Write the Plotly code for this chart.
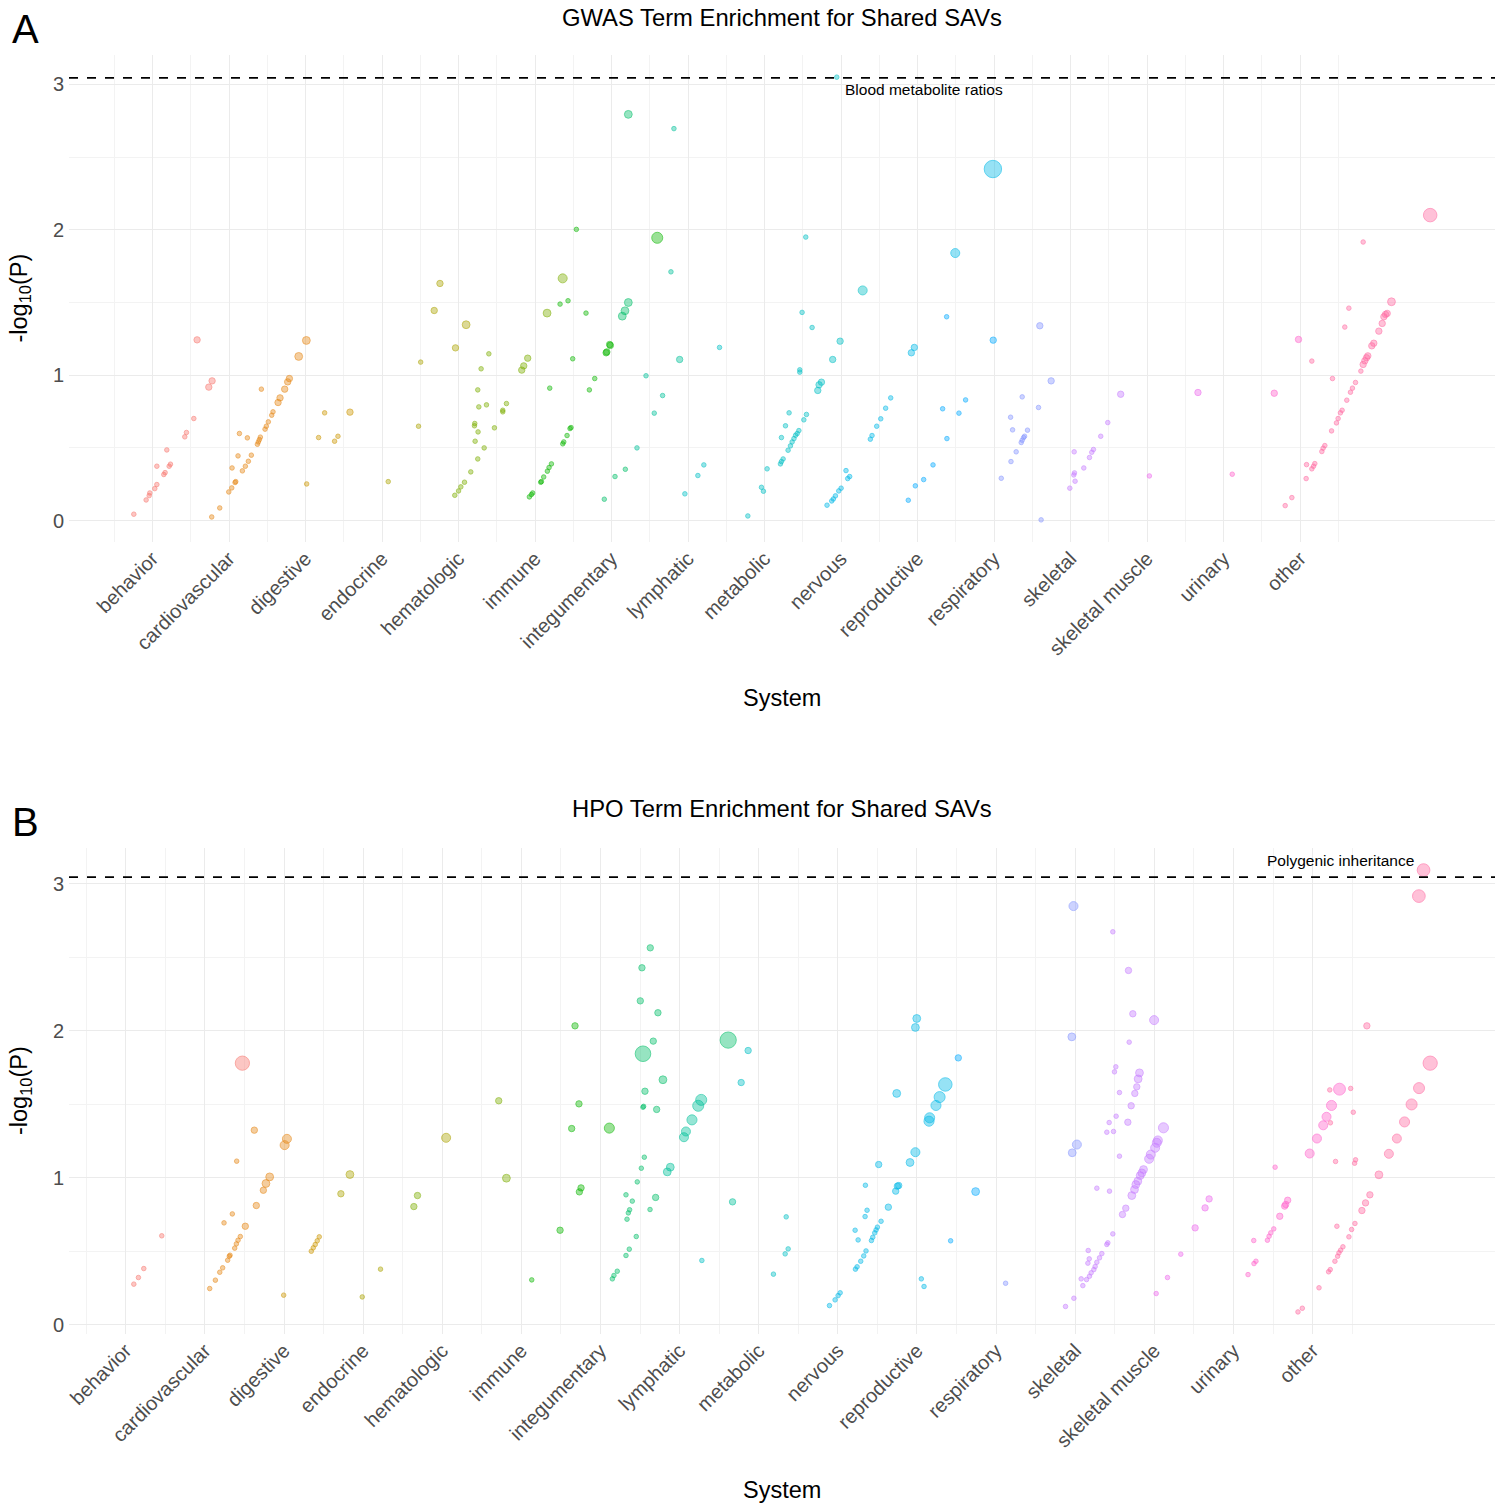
import math
import plotly.graph_objects as go
from plotly.subplots import make_subplots

# Systems on the x axis (ticks 1..16; plain grid lines at 0 and 17)
systems = ["behavior", "cardiovascular", "digestive", "endocrine", "hematologic",
           "immune", "integumentary", "lymphatic", "metabolic", "nervous",
           "reproductive", "respiratory", "skeletal", "skeletal muscle",
           "urinary", "other"]

# ggplot default hue palette, 16 levels (one colour per point group)
hue16 = ["#F8766D", "#E68613", "#CD9600", "#ABA300", "#7CAE00", "#0CB702",
         "#00BE67", "#00C19A", "#00BFC4", "#00B8E7", "#00A9FF", "#8494FF",
         "#C77CFF", "#ED68ED", "#FF61CC", "#FF68A1"]

sig_threshold = 3.045

# ---------------- GWAS terms (panel A) ----------------
gwas_pos = [
    [0.756, 0.917, 0.957, 0.965, 1.030, 1.057, 1.057, 1.148, 1.165, 1.187, 1.218, 1.235, 1.422, 1.444, 1.540, 1.583, 1.736, 1.779],
    [1.774, 1.879, 1.997, 2.036, 2.040, 2.079, 2.088, 2.118, 2.136, 2.175, 2.214, 2.240, 2.253, 2.292, 2.371, 2.384, 2.397, 2.410, 2.423, 2.471, 2.488, 2.514, 2.558, 2.575, 2.641, 2.667, 2.728, 2.767, 2.789, 2.911, 3.011],
    [3.015, 3.171, 3.250, 3.380, 3.424, 3.581],
    [4.081, 4.477, 4.505, 4.682, 4.757, 4.960, 5.099],
    [4.951, 5.000, 5.030, 5.078, 5.160, 5.217, 5.208, 5.212, 5.251, 5.251, 5.255, 5.265, 5.295, 5.335, 5.365, 5.396, 5.469, 5.578, 5.578, 5.626, 5.826, 5.852, 5.904, 6.157, 6.361],
    [5.926, 5.952, 5.969, 6.074, 6.083, 6.113, 6.161, 6.183, 6.214, 6.192, 6.327, 6.431, 6.362, 6.375, 6.418, 6.457, 6.470, 6.492, 6.540, 6.666, 6.710, 6.780, 6.929, 6.938, 6.975, 6.984, 7.597],
    [6.905, 7.045, 7.140, 7.175, 7.180, 7.219, 7.219],
    [7.332, 7.450, 7.558, 7.667, 7.776, 7.815, 7.890],
    [7.958, 8.128, 8.206, 8.411, 8.781, 8.959, 8.985, 9.033, 9.207, 9.220, 9.242, 9.220, 9.273, 9.307, 9.320, 9.338, 9.360, 9.384, 9.405, 9.426, 9.448, 9.460, 9.460, 9.490, 9.513, 9.538, 9.547, 9.621, 9.695, 9.712, 9.743, 9.890, 9.943, 9.987, 10.282],
    [9.816, 9.877, 9.899, 9.926, 9.969, 10.000, 10.064, 10.086, 10.112, 10.382, 10.404, 10.465, 10.518, 10.582, 10.648, 10.918, 10.957, 11.492, 11.984],
    [10.878, 10.970, 11.079, 11.201, 11.327, 11.379, 11.383, 11.540, 11.627, 11.988],
    [12.093, 12.215, 12.241, 12.220, 12.288, 12.354, 12.367, 12.385, 12.398, 12.367, 12.436, 12.580, 12.597, 12.614, 12.745],
    [12.989, 13.041, 13.046, 13.050, 13.058, 13.172, 13.246, 13.276, 13.298, 13.393, 13.485, 13.654],
    [14.029, 14.664],
    [15.112, 15.661, 15.978],
    [15.804, 15.891, 16.078, 16.083, 16.152, 16.152, 16.174, 16.191, 16.283, 16.300, 16.322, 16.410, 16.422, 16.474, 16.496, 16.526, 16.548, 16.583, 16.609, 16.636, 16.657, 16.683, 16.723, 16.793, 16.823, 16.823, 16.845, 16.867, 16.884, 16.936, 16.962, 17.028, 17.072, 17.094, 17.115, 17.137, 17.193, 17.699],
]
gwas_logp = [
    [0.044, 0.142, 0.172, 0.190, 0.220, 0.248, 0.374, 0.317, 0.330, 0.486, 0.374, 0.388, 0.576, 0.606, 0.702, 1.243, 0.918, 0.961],
    [0.025, 0.087, 0.197, 0.225, 0.362, 0.262, 0.268, 0.445, 0.599, 0.342, 0.374, 0.569, 0.408, 0.450, 0.525, 0.541, 0.557, 0.574, 0.904, 0.629, 0.649, 0.679, 0.725, 0.748, 0.812, 0.844, 0.904, 0.954, 0.977, 1.129, 1.239],
    [0.252, 0.571, 0.741, 0.546, 0.580, 0.746],
    [0.268, 0.649, 1.090, 1.445, 1.631, 1.188, 1.347],
    [0.174, 0.204, 0.232, 0.264, 0.335, 0.546, 0.652, 0.668, 0.424, 0.899, 0.610, 0.782, 1.044, 0.500, 0.796, 1.147, 0.638, 0.748, 0.759, 0.805, 1.035, 1.064, 1.117, 1.427, 1.666],
    [0.163, 0.179, 0.190, 0.264, 0.268, 0.300, 0.340, 0.365, 0.390, 0.911, 1.489, 1.512, 0.528, 0.541, 0.585, 0.633, 0.640, 1.113, 2.003, 1.427, 0.899, 0.977, 1.154, 1.160, 1.211, 1.205, 1.945],
    [0.147, 0.303, 1.406, 1.443, 0.353, 1.500, 2.794],
    [0.500, 0.996, 0.739, 0.860, 1.711, 2.696, 1.108],
    [0.184, 0.310, 0.383, 1.191, 0.032, 0.229, 0.202, 0.356, 0.390, 0.406, 0.424, 0.571, 0.652, 0.484, 0.741, 0.514, 0.541, 0.564, 0.587, 0.599, 0.619, 1.021, 1.037, 1.432, 0.693, 1.950, 0.730, 1.328, 0.895, 0.934, 0.952, 1.108, 3.050, 1.234, 1.583],
    [0.106, 0.135, 0.149, 0.170, 0.204, 0.223, 0.344, 0.289, 0.303, 0.560, 0.585, 0.649, 0.700, 0.773, 0.844, 1.154, 1.191, 1.840, 2.418],
    [0.140, 0.239, 0.282, 0.383, 0.769, 1.402, 0.564, 0.739, 0.830, 1.241],
    [0.291, 0.711, 0.624, 0.406, 0.473, 0.537, 0.553, 0.571, 0.580, 0.851, 0.622, 0.778, 1.340, 0.005, 0.961],
    [0.223, 0.314, 0.473, 0.328, 0.271, 0.362, 0.434, 0.470, 0.489, 0.580, 0.674, 0.869],
    [0.307, 0.881],
    [0.319, 0.876, 1.246],
    [0.103, 0.158, 0.289, 0.385, 1.097, 0.356, 0.374, 0.392, 0.475, 0.498, 0.516, 0.617, 0.977, 0.672, 0.702, 0.741, 0.759, 1.331, 0.828, 1.461, 0.883, 0.911, 0.950, 1.028, 1.916, 1.074, 1.099, 1.120, 1.133, 1.202, 1.220, 1.303, 1.356, 1.402, 1.418, 1.425, 1.505, 2.101],
]
gwas_n = [
    [1] * 15 + [2, 2, 2],
    [1] * 24 + [2, 2, 2, 2, 2, 3, 3],
    [1, 1, 1, 1, 1, 2],
    [1, 1, 1, 2, 2, 2, 3],
    [1] * 20 + [2, 2, 2, 3, 4],
    [1] * 22 + [2, 2, 2, 2, 6],
    [1, 1, 3, 3, 1, 3, 3],
    [1, 1, 1, 1, 1, 1, 2],
    [1] * 28 + [2, 2, 2, 2, 1, 2, 4],
    [1] * 15 + [2, 2, 4, 15],
    [1] * 9 + [2],
    [1] * 12 + [2, 1, 2],
    [1] * 11 + [2],
    [1, 2],
    [1, 2, 2],
    [1] * 25 + [2] * 11 + [3, 9],
]

# ---------------- HPO terms (panel B) ----------------
hpo_pos = [
    [1.102, 1.160, 1.228, 1.455, 2.474],
    [2.061, 2.133, 2.188, 2.225, 2.242, 2.288, 2.309, 2.318, 2.347, 2.377, 2.398, 2.419, 2.448, 2.402, 2.511, 2.625, 2.650, 2.739, 2.772, 2.819, 3.008, 3.037],
    [2.996, 3.345, 3.370, 3.395, 3.420, 3.446],
    [3.719, 3.833, 3.989, 4.220, 5.049],
    [4.641, 4.687, 5.714, 5.811],
    [6.131, 6.489, 6.636, 6.678, 6.728, 6.733, 6.754, 7.112],
    [7.150, 7.170, 7.212, 7.322, 7.364, 7.452, 7.322, 7.402, 7.368, 7.352, 7.335, 7.465, 7.516, 7.554, 7.503, 7.524, 7.629, 7.537, 7.562, 7.537, 7.545, 7.667, 7.726, 7.626, 7.697, 7.710, 7.789, 8.614],
    [7.844, 7.882, 8.055, 8.080, 8.156, 8.235, 8.273, 8.669],
    [8.281, 8.778, 8.866, 9.186, 9.334, 9.347, 9.372],
    [9.894, 9.965, 10.003, 10.029, 10.218, 10.222, 10.243, 10.256, 10.289, 10.327, 10.344, 10.348, 10.356, 10.369, 10.424, 10.441, 10.466, 10.483, 10.500, 10.516, 10.546, 10.638, 10.731, 10.744, 10.752, 10.769, 10.912, 10.980, 10.980, 10.997, 11.055, 11.089, 11.152, 11.160, 11.240, 11.286, 11.358],
    [11.425, 11.522, 11.741],
    [12.120, 12.957, 12.962, 12.978, 13.021],
    [12.877, 12.983, 13.075, 13.096, 13.143, 13.160, 13.164, 13.177, 13.180, 13.201, 13.235, 13.252, 13.273, 13.273, 13.307, 13.336, 13.399, 13.399, 13.412, 13.429, 13.433, 13.475, 13.475, 13.484, 13.496, 13.513, 13.517, 13.559, 13.559, 13.597, 13.639, 13.665, 13.673, 13.682, 13.707, 13.715, 13.728, 13.749, 13.753, 13.766, 13.778, 13.791, 13.795, 13.812, 13.821, 13.842, 13.863, 13.934, 13.955, 13.997, 14.010, 14.031, 14.044, 14.115],
    [14.023, 14.166, 14.334, 14.515, 14.641, 14.692],
    [15.184, 15.256, 15.259, 15.284, 15.429, 15.450, 15.471, 15.509, 15.526, 15.585, 15.647, 15.660, 15.685, 15.963, 16.055, 16.134, 16.176, 16.239, 16.340],
    [15.815, 15.870, 16.081, 16.202, 16.217, 16.223, 16.225, 16.282, 16.290, 16.307, 16.316, 16.333, 16.354, 16.383, 16.459, 16.481, 16.493, 16.514, 16.531, 16.535, 16.543, 16.623, 16.669, 16.686, 16.724, 16.838, 16.964, 17.065, 17.162, 17.251, 17.343, 17.345, 17.402, 17.486],
]
hpo_logp = [
    [0.275, 0.320, 0.381, 0.604, 1.779],
    [0.245, 0.302, 0.356, 0.386, 0.692, 0.438, 0.465, 0.472, 0.753, 0.520, 0.549, 0.574, 0.599, 1.112, 0.669, 1.323, 0.810, 0.914, 0.960, 1.005, 1.221, 1.264],
    [0.200, 0.499, 0.522, 0.545, 0.570, 0.597],
    [0.890, 1.021, 0.188, 0.377, 1.271],
    [0.803, 0.878, 1.523, 0.996],
    [0.304, 0.642, 1.334, 2.033, 1.502, 0.903, 0.930, 1.337],
    [0.311, 0.334, 0.363, 0.470, 0.513, 0.599, 0.883, 0.840, 0.781, 0.760, 0.717, 0.971, 1.064, 1.139, 2.203, 2.428, 2.564, 1.843, 1.588, 1.479, 1.485, 1.929, 2.122, 0.783, 0.865, 1.464, 1.666, 1.936],
    [1.039, 1.071, 1.275, 1.314, 1.393, 1.489, 1.529, 0.835],
    [0.436, 1.647, 1.865, 0.343, 0.481, 0.733, 0.515],
    [0.129, 0.168, 0.197, 0.216, 0.642, 0.377, 0.393, 0.576, 0.431, 0.467, 0.735, 0.948, 0.501, 0.778, 0.572, 0.594, 0.624, 0.644, 0.663, 1.089, 0.703, 0.799, 0.908, 1.573, 0.942, 0.946, 1.103, 1.173, 2.022, 2.083, 0.311, 0.259, 1.384, 1.407, 1.491, 1.548, 1.634],
    [0.570, 1.815, 0.905],
    [0.281, 1.958, 1.169, 2.848, 1.225],
    [0.123, 0.179, 0.311, 0.265, 0.306, 0.418, 0.504, 0.447, 0.329, 0.352, 0.374, 0.395, 0.928, 0.424, 0.454, 0.483, 0.545, 1.309, 0.556, 1.375, 0.908, 2.673, 0.617, 1.314, 1.720, 1.754, 1.418, 1.579, 1.146, 0.749, 0.792, 1.377, 2.410, 1.922, 1.489, 0.878, 2.115, 0.919, 1.573, 0.953, 1.618, 0.976, 1.672, 1.713, 1.014, 1.032, 1.055, 1.128, 1.157, 2.072, 1.203, 1.237, 1.253, 1.339],
    [0.211, 0.320, 0.479, 0.658, 0.794, 0.855],
    [0.340, 0.572, 0.415, 0.431, 0.574, 0.601, 0.624, 0.651, 1.071, 0.737, 0.806, 0.817, 0.846, 1.164, 1.266, 1.356, 1.414, 1.491, 1.602],
    [0.086, 0.111, 0.250, 0.359, 1.597, 0.374, 1.373, 0.431, 1.110, 0.669, 0.465, 0.488, 0.506, 0.529, 0.597, 1.607, 0.647, 1.445, 1.098, 0.688, 1.121, 0.776, 0.828, 2.033, 0.883, 1.019, 1.162, 1.266, 1.379, 1.498, 2.916, 1.609, 3.093, 1.779],
]
hpo_n = [
    [1, 1, 1, 1, 10],
    [1] * 14 + [2, 2, 2, 2, 3, 3, 4, 4],
    [1] * 6,
    [2, 3, 1, 1, 4],
    [2, 2, 2, 3],
    [1, 2, 2, 2, 2, 2, 2, 5],
    [1] * 14 + [2, 2, 2, 12, 2, 1, 1, 2, 2, 1, 2, 2, 3, 13],
    [3, 3, 4, 4, 5, 6, 6, 2],
    [1, 2, 2, 1, 1, 1, 1],
    [1] * 19 + [2, 1, 2, 2, 3, 2, 2, 3, 4, 3, 3, 1, 1, 5, 5, 5, 6, 9],
    [1, 2, 3],
    [1, 3, 3, 4, 4],
    [1] * 29 + [2, 2, 2, 2, 1, 2, 3, 2, 3, 2, 3, 2, 3, 3, 3, 3, 3, 3, 4, 4, 4, 4, 4, 4, 5],
    [1, 1, 1, 2, 2, 2],
    [1] * 9 + [2, 2, 2, 2, 4, 4, 4, 4, 5, 7],
    [1] * 21 + [2, 2, 2, 2, 3, 4, 4, 5, 6, 8, 6, 8, 10],
]

panels = [
    ("GWAS Term Enrichment for Shared SAVs", "A", gwas_pos, gwas_logp, gwas_n, "Blood metabolite ratios"),
    ("HPO Term Enrichment for Shared SAVs", "B", hpo_pos, hpo_logp, hpo_n, "Polygenic inheritance"),
]

# page geometry (pixels)
W, H = 1508, 1509
ML, MR, MT, MB = 69, 13, 55, 175
FONT = "Liberation Sans, Arial, sans-serif"


def px_x(px):
    return (px - ML) / (W - ML - MR)


def px_y(py):
    return 1 - (py - MT) / (H - MT - MB)


def rgba(hexcol, a):
    h = hexcol.lstrip("#")
    return "rgba(%d,%d,%d,%.2f)" % (int(h[0:2], 16), int(h[2:4], 16), int(h[4:6], 16), a)


fig = make_subplots(rows=2, cols=1)

for i, (title, letter, pos, logp, nn, top_label) in enumerate(panels):
    row = i + 1

    # grid lines at the two unlabelled ends (0 and 17)
    for gx in (0, 17):
        fig.add_vline(x=gx, line_color="#EBEBEB", line_width=1.1, layer="below", row=row, col=1)

    for s in range(len(systems)):
        fig.add_trace(go.Scatter(
            x=pos[s], y=logp[s], mode="markers", name=systems[s],
            marker=dict(size=[4.5 * math.sqrt(v) for v in nn[s]],
                        color=rgba(hue16[s], 0.58),
                        line=dict(color=rgba(hue16[s], 0.85), width=1)),
            showlegend=False), row=row, col=1)

    # significance threshold
    fig.add_hline(y=sig_threshold, line_dash="dash", line_color="black",
                  line_width=1.6, row=row, col=1)

    # scales with ggplot's 5% expansion
    all_x = [v for grp in pos for v in grp]
    all_y = [v for grp in logp for v in grp] + [sig_threshold]
    sx = max(all_x) - min(all_x)
    sy = max(all_y) - min(all_y)
    fig.update_xaxes(range=[min(all_x) - 0.05 * sx, max(all_x) + 0.05 * sx],
                     tickmode="array", tickvals=list(range(1, 17)),
                     ticktext=systems, tickangle=-45,
                     tickfont=dict(size=20, color="#4D4D4D", family=FONT),
                     showgrid=True, gridcolor="#EBEBEB", gridwidth=1.1,
                     minor=dict(tickmode="array", tickvals=[k + 0.5 for k in range(17)],
                                showgrid=True, gridcolor="#F3F3F3", gridwidth=0.7),
                     zeroline=False, showline=False, ticks="", row=row, col=1)
    fig.update_yaxes(range=[min(all_y) - 0.05 * sy, max(all_y) + 0.05 * sy],
                     tickmode="array", tickvals=[0, 1, 2, 3],
                     tickfont=dict(size=20, color="#4D4D4D", family=FONT),
                     ticklabelstandoff=4,
                     showgrid=True, gridcolor="#EBEBEB", gridwidth=1.1,
                     minor=dict(tickmode="array", tickvals=[0.5, 1.5, 2.5],
                                showgrid=True, gridcolor="#F3F3F3", gridwidth=0.7),
                     zeroline=False, showline=False, ticks="", row=row, col=1)

    # label the top term
    best = max(((logp[s][k], pos[s][k]) for s in range(len(systems)) for k in range(len(pos[s]))))
    xr = "x" if row == 1 else "x2"
    yr = "y" if row == 1 else "y2"
    if row == 1:
        fig.add_annotation(x=best[1], y=best[0], xref=xr, yref=yr, text=top_label,
                           showarrow=False, xanchor="left", yanchor="middle",
                           xshift=6, yshift=-12, font=dict(size=15.5, color="black", family=FONT))
    else:
        fig.add_annotation(x=best[1], y=best[0], xref=xr, yref=yr, text=top_label,
                           showarrow=False, xanchor="right", yanchor="middle",
                           xshift=-8, yshift=10, font=dict(size=15.5, color="black", family=FONT))

# panel texts (titles, letters, axis titles)
panel_px = [dict(title=17, letter=29, xlab=698, ylab=298.5),
            dict(title=808, letter=822, xlab=1490, ylab=1091)]
for (title, letter, *_), p in zip(panels, panel_px):
    fig.add_annotation(x=0.5, y=px_y(p["title"]), xref="paper", yref="paper", text=title,
                       showarrow=False, xanchor="center", yanchor="middle",
                       font=dict(size=23.8, color="black", family=FONT))
    fig.add_annotation(x=px_x(25), y=px_y(p["letter"]), xref="paper", yref="paper", text=letter,
                       showarrow=False, xanchor="center", yanchor="middle",
                       font=dict(size=40, color="black", family=FONT))
    fig.add_annotation(x=0.5, y=px_y(p["xlab"]), xref="paper", yref="paper", text="System",
                       showarrow=False, xanchor="center", yanchor="middle",
                       font=dict(size=23.5, color="black", family=FONT))
    fig.add_annotation(x=px_x(20), y=px_y(p["ylab"]), xref="paper", yref="paper",
                       text="-log<sub>10</sub>(P)", textangle=-90,
                       showarrow=False, xanchor="center", yanchor="middle",
                       font=dict(size=23.5, color="black", family=FONT))

fig.update_layout(
    width=W, height=H,
    margin=dict(l=ML, r=MR, t=MT, b=MB),
    paper_bgcolor="white", plot_bgcolor="white",
    font=dict(family=FONT),
    yaxis=dict(domain=[px_y(542), 1.0]),
    yaxis2=dict(domain=[0.0, px_y(848)]),
)

# drop the browser's default 8px body margin so the figure fills the window
fig.write_html("out.html", config={"displayModeBar": False},
               post_script="document.body.style.margin='0';")
